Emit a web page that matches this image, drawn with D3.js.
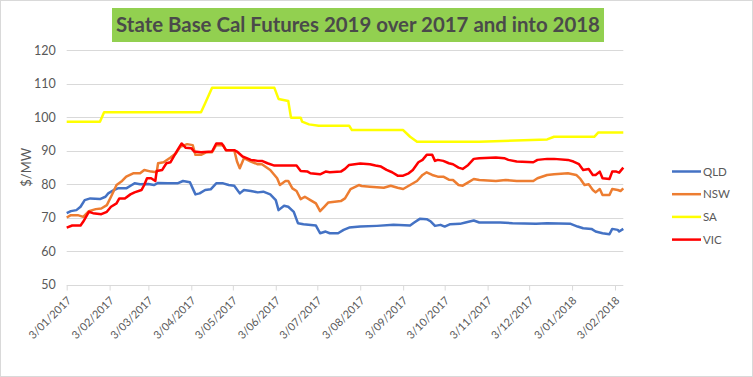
<!DOCTYPE html>
<html>
<head>
<meta charset="utf-8">
<script src="https://cdn.jsdelivr.net/npm/d3@7"></script>
<style>
  body { margin: 0; background: #fff; }
  text { font-family: Lato, "Open Sans", sans-serif; fill: #595959; }
</style>
</head>
<body>
<script>
var w = 753;
var h = 377;

var titleText = "State Base Cal Futures 2019 over 2017 and into 2018";
var yLabel = "$/MW";
var seriesNames = ["QLD", "NSW", "SA", "VIC"];
var seriesColors = ["#4472C4", "#ED7D31", "#FFFF00", "#FF0000"];
var yTicks = [50, 60, 70, 80, 90, 100, 110, 120];
var xTickLabels = ["3/01/2017", "3/02/2017", "3/03/2017", "3/04/2017", "3/05/2017", "3/06/2017", "3/07/2017",
                   "3/08/2017", "3/09/2017", "3/10/2017", "3/11/2017", "3/12/2017", "3/01/2018", "3/02/2018"];

var qldData = [["2017-01-03",71.3],["2017-01-06",71.9],["2017-01-10",72.2],["2017-01-13",73.2],["2017-01-16",75.2],["2017-01-20",75.7],["2017-01-27",75.5],["2017-01-31",76.2],["2017-02-02",77.2],["2017-02-06",78.2],["2017-02-09",78.7],["2017-02-15",78.7],["2017-02-19",79.7],["2017-02-21",80.2],["2017-02-25",79.9],["2017-03-03",80.0],["2017-03-07",79.7],["2017-03-10",80.3],["2017-03-17",80.2],["2017-03-24",80.2],["2017-03-28",80.9],["2017-04-02",80.5],["2017-04-04",78.7],["2017-04-06",76.9],["2017-04-09",77.2],["2017-04-13",78.2],["2017-04-17",78.4],["2017-04-21",80.2],["2017-04-26",80.2],["2017-04-30",79.7],["2017-05-04",79.5],["2017-05-08",77.2],["2017-05-11",78.2],["2017-05-16",77.9],["2017-05-21",77.5],["2017-05-25",77.7],["2017-05-30",76.9],["2017-06-03",75.2],["2017-06-05",72.2],["2017-06-09",73.5],["2017-06-12",73.2],["2017-06-16",71.7],["2017-06-19",68.3],["2017-06-23",68.0],["2017-07-02",67.6],["2017-07-05",65.3],["2017-07-09",65.8],["2017-07-12",65.3],["2017-07-18",65.3],["2017-07-22",66.3],["2017-07-26",67.0],["2017-08-03",67.3],["2017-08-15",67.5],["2017-08-27",67.8],["2017-09-08",67.6],["2017-09-11",68.5],["2017-09-15",69.6],["2017-09-20",69.5],["2017-09-23",68.8],["2017-09-26",67.5],["2017-09-30",67.8],["2017-10-03",67.3],["2017-10-07",68.0],["2017-10-14",68.1],["2017-10-18",68.5],["2017-10-24",69.1],["2017-10-28",68.5],["2017-11-12",68.5],["2017-11-21",68.3],["2017-12-08",68.1],["2017-12-16",68.3],["2018-01-02",68.1],["2018-01-07",67.3],["2018-01-11",66.8],["2018-01-17",66.6],["2018-01-20",65.8],["2018-01-25",65.3],["2018-01-30",65.0],["2018-02-01",66.6],["2018-02-05",66.3],["2018-02-06",65.8],["2018-02-09",66.6]];

var nswData = [["2017-01-03",70.0],["2017-01-06",70.7],["2017-01-11",70.7],["2017-01-15",70.2],["2017-01-19",71.9],["2017-01-24",72.5],["2017-01-28",72.7],["2017-02-01",73.7],["2017-02-04",76.2],["2017-02-08",79.7],["2017-02-12",80.9],["2017-02-15",82.2],["2017-02-20",83.2],["2017-02-25",83.2],["2017-02-28",84.2],["2017-03-05",83.7],["2017-03-09",83.5],["2017-03-10",86.2],["2017-03-14",86.5],["2017-03-19",87.9],["2017-03-23",89.2],["2017-03-26",91.1],["2017-03-31",91.9],["2017-04-04",91.6],["2017-04-06",88.7],["2017-04-10",88.7],["2017-04-14",89.5],["2017-04-18",89.5],["2017-04-21",91.6],["2017-04-26",91.6],["2017-04-28",90.1],["2017-05-04",90.1],["2017-05-06",86.7],["2017-05-08",84.7],["2017-05-11",87.7],["2017-05-16",86.7],["2017-05-21",85.9],["2017-05-24",85.9],["2017-05-30",84.2],["2017-06-04",81.7],["2017-06-06",79.7],["2017-06-10",80.9],["2017-06-12",80.9],["2017-06-15",78.7],["2017-06-18",77.9],["2017-06-21",75.5],["2017-06-24",76.2],["2017-06-28",75.2],["2017-07-02",74.2],["2017-07-05",71.9],["2017-07-08",73.2],["2017-07-11",74.5],["2017-07-20",74.9],["2017-07-23",75.7],["2017-07-27",78.5],["2017-08-02",79.7],["2017-08-04",79.4],["2017-08-10",79.2],["2017-08-20",78.9],["2017-08-25",79.5],["2017-08-30",78.9],["2017-09-03",78.5],["2017-09-08",79.7],["2017-09-13",80.9],["2017-09-17",82.7],["2017-09-20",83.5],["2017-09-24",82.7],["2017-09-28",82.2],["2017-10-02",82.2],["2017-10-06",81.3],["2017-10-09",81.2],["2017-10-13",79.7],["2017-10-16",79.5],["2017-10-20",80.5],["2017-10-24",81.5],["2017-10-28",81.2],["2017-11-09",80.9],["2017-11-16",81.2],["2017-11-24",80.9],["2017-12-06",80.9],["2017-12-09",81.7],["2017-12-16",82.7],["2017-12-21",82.9],["2017-12-31",83.2],["2018-01-06",82.7],["2018-01-09",81.5],["2018-01-12",79.7],["2018-01-15",79.9],["2018-01-18",78.2],["2018-01-20",77.5],["2018-01-23",78.5],["2018-01-25",76.7],["2018-01-30",76.7],["2018-02-01",78.5],["2018-02-05",78.2],["2018-02-07",77.9],["2018-02-09",78.7]];

var saData = [["2017-01-03",98.6],["2017-01-27",98.6],["2017-01-30",101.4],["2017-04-10",101.4],["2017-04-13",104.1],["2017-04-18",108.7],["2017-06-02",108.7],["2017-06-05",105.4],["2017-06-12",104.8],["2017-06-14",99.8],["2017-06-21",99.8],["2017-06-22",98.6],["2017-06-27",97.8],["2017-07-04",97.4],["2017-07-26",97.4],["2017-07-28",96.1],["2017-09-03",96.1],["2017-09-08",94.1],["2017-09-13",92.6],["2017-10-28",92.6],["2017-12-16",93.3],["2017-12-21",94.1],["2018-01-19",94.1],["2018-01-22",95.4],["2018-02-09",95.4]];

var vicData = [["2017-01-03",67.0],["2017-01-07",67.6],["2017-01-13",67.6],["2017-01-15",68.8],["2017-01-19",71.7],["2017-01-22",71.3],["2017-01-28",71.0],["2017-02-01",71.7],["2017-02-04",73.2],["2017-02-08",74.2],["2017-02-10",75.7],["2017-02-14",75.7],["2017-02-18",76.9],["2017-02-21",77.5],["2017-02-26",78.2],["2017-02-28",79.7],["2017-03-02",81.7],["2017-03-05",81.7],["2017-03-08",80.9],["2017-03-09",83.9],["2017-03-13",84.2],["2017-03-16",86.2],["2017-03-19",86.5],["2017-03-22",88.7],["2017-03-24",90.1],["2017-03-27",92.1],["2017-03-30",90.8],["2017-04-03",90.7],["2017-04-05",89.7],["2017-04-10",89.5],["2017-04-18",89.7],["2017-04-21",92.1],["2017-04-25",92.1],["2017-04-28",90.1],["2017-05-04",90.1],["2017-05-06",89.7],["2017-05-10",88.2],["2017-05-13",87.7],["2017-05-16",87.2],["2017-05-21",86.9],["2017-05-24",86.9],["2017-05-28",86.2],["2017-06-02",85.5],["2017-06-18",85.5],["2017-06-21",83.9],["2017-06-26",83.7],["2017-06-28",83.2],["2017-07-05",82.9],["2017-07-09",83.7],["2017-07-12",83.5],["2017-07-20",83.7],["2017-07-23",84.5],["2017-07-26",85.7],["2017-08-03",86.1],["2017-08-10",85.9],["2017-08-14",85.5],["2017-08-18",85.2],["2017-08-22",84.2],["2017-08-26",83.5],["2017-08-30",82.5],["2017-09-03",82.5],["2017-09-07",83.2],["2017-09-10",84.2],["2017-09-14",86.5],["2017-09-17",87.2],["2017-09-20",88.7],["2017-09-24",88.7],["2017-09-26",86.9],["2017-09-28",87.2],["2017-10-02",86.9],["2017-10-06",86.2],["2017-10-09",85.9],["2017-10-13",84.9],["2017-10-16",84.5],["2017-10-20",85.7],["2017-10-24",87.5],["2017-10-28",87.7],["2017-11-09",87.9],["2017-11-15",87.7],["2017-11-18",87.2],["2017-11-24",86.7],["2017-12-06",86.5],["2017-12-09",87.2],["2017-12-16",87.5],["2017-12-21",87.5],["2017-12-31",87.2],["2018-01-04",86.7],["2018-01-08",85.9],["2018-01-11",84.2],["2018-01-15",84.5],["2018-01-18",82.7],["2018-01-20",82.7],["2018-01-23",83.7],["2018-01-25",81.7],["2018-01-30",81.5],["2018-02-01",83.7],["2018-02-04",83.7],["2018-02-06",83.4],["2018-02-09",84.9]];

var allSeries = [qldData, nswData, saData, vicData];

var parseDate = d3.timeParse("%Y-%m-%d");
var parseTick = d3.timeParse("%d/%m/%Y");

var plotLeft = 66.7, plotRight = 623.3, plotTop = 50, plotBottom = 284.5;

var xScale = d3.scaleTime()
    .domain([parseDate(qldData[0][0]), parseDate(qldData[qldData.length - 1][0])])
    .range([plotLeft, plotRight]);

var yScale = d3.scaleLinear()
    .domain([50, 120])
    .range([plotBottom, plotTop]);

var svg = d3.select("body")
    .append("svg")
    .attr("width", w)
    .attr("height", h);

// outer chart border
svg.append("rect")
    .attr("x", 0.5).attr("y", 0.5)
    .attr("width", w - 1).attr("height", h - 1)
    .attr("fill", "#fff")
    .attr("stroke", "#d9d9d9");

// title box
svg.append("rect")
    .attr("x", 112).attr("y", 8)
    .attr("width", 492).attr("height", 34)
    .attr("fill", "#92D050");

var title = svg.append("text")
    .attr("x", 358).attr("y", 25)
    .attr("dy", "0.35em")
    .attr("text-anchor", "middle")
    .style("font-weight", "bold")
    .style("font-size", "20px")
    .style("fill", "#4a4a4a")
    .text(titleText);
var tw = title.node().getComputedTextLength();
title.style("font-size", (20 * 484 / tw) + "px");

// gridlines
svg.append("g")
    .selectAll("line")
    .data(yTicks.slice(1))
    .enter()
    .append("line")
    .attr("x1", plotLeft).attr("x2", plotRight)
    .attr("y1", function(d) { return Math.round(yScale(d)) + 0.5; })
    .attr("y2", function(d) { return Math.round(yScale(d)) + 0.5; })
    .attr("stroke", "#d9d9d9")
    .attr("stroke-width", 1);

// y axis labels
var yAxis = d3.axisLeft(yScale)
    .tickValues(yTicks)
    .tickSize(0)
    .tickPadding(11);
var gy = svg.append("g")
    .attr("transform", "translate(" + plotLeft + ",0)")
    .call(yAxis);
gy.select(".domain").remove();
gy.selectAll("text").style("font-size", "12.5px").style("fill", "#595959");

// x axis
var xAxis = d3.axisBottom(xScale)
    .tickValues(xTickLabels.map(function(s) { return parseTick(s); }))
    .tickFormat(d3.timeFormat("%-d/%m/%Y"))
    .tickSizeInner(5)
    .tickSizeOuter(0);
var gx = svg.append("g")
    .attr("transform", "translate(0," + (Math.round(plotBottom) + 0.5) + ")")
    .call(xAxis);
gx.select(".domain").attr("stroke", "#d9d9d9").attr("d", "M" + plotLeft + ",0H" + plotRight);
gx.selectAll(".tick line").attr("stroke", "#d9d9d9");
gx.selectAll("text")
    .style("font-size", "11px")
    .style("fill", "#595959")
    .attr("text-anchor", "end")
    .attr("dy", "0.35em")
    .attr("transform", "translate(2,13) rotate(-45)")
    .attr("x", 0).attr("y", 0);

svg.append("text")
    .attr("transform", "translate(26," + yScale(85) + ") rotate(-90)")
    .attr("text-anchor", "middle")
    .attr("dy", "0.35em")
    .style("font-size", "13px")
    .text(yLabel);

// series lines
var line = d3.line()
    .x(function(d) { return xScale(parseDate(d[0])); })
    .y(function(d) { return yScale(d[1]); });

svg.append("g")
    .selectAll("path")
    .data(allSeries)
    .enter()
    .append("path")
    .attr("d", line)
    .attr("fill", "none")
    .attr("stroke", function(d, i) { return seriesColors[i]; })
    .attr("stroke-width", 2.5)
    .attr("stroke-linejoin", "round");

// legend
var legend = svg.append("g")
    .selectAll("g")
    .data(seriesNames)
    .enter()
    .append("g")
    .attr("transform", function(d, i) { return "translate(672," + (171.5 + i * 22.7) + ")"; });
legend.append("line")
    .attr("x1", 0).attr("x2", 29)
    .attr("stroke", function(d, i) { return seriesColors[i]; })
    .attr("stroke-width", 2.5);
legend.append("text")
    .attr("x", 31)
    .attr("dy", "0.35em")
    .style("font-size", "11.5px")
    .text(function(d) { return d; });
</script>
</body>
</html>
